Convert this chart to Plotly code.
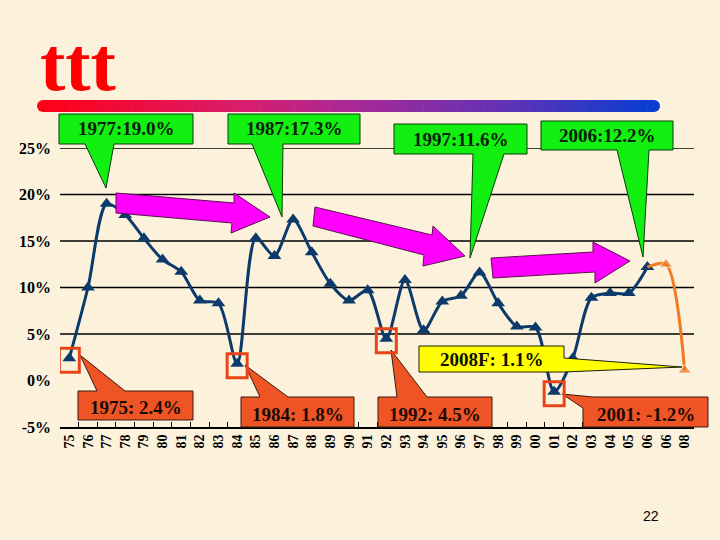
import plotly.graph_objects as go

# ---------------- data ----------------
year_labels = ["75", "76", "77", "78", "79", "80", "81", "82", "83", "84",
               "85", "86", "87", "88", "89", "90", "91", "92", "93", "94",
               "95", "96", "97", "98", "99", "00", "01", "02", "03", "04",
               "05", "06", "06", "08"]
growth_actual = [2.4, 10.0, 19.0, 17.8, 15.3, 13.0, 11.7, 8.6, 8.3, 1.8,
                 15.3, 13.4, 17.3, 13.8, 10.4, 8.6, 9.7, 4.5, 10.8, 5.4,
                 8.5, 9.1, 11.6, 8.3, 5.8, 5.7, -1.2, 2.4, 8.9, 9.4,
                 9.4, 12.2]
forecast_pos = [31, 32, 33]
growth_forecast = [12.2, 12.5, 1.1]
y_tick_vals = [-5, 0, 5, 10, 15, 20, 25]
y_tick_text = ["-5%", "0%", "5%", "10%", "15%", "20%", "25%"]
grid_levels = [5, 10, 15, 20, 25]
highlight_pos = [0, 9, 17, 26]
highlight_val = [2.4, 1.8, 4.5, -1.2]

# ---------------- layout geometry (pixels) ----------------
W, H = 720, 540
L, R, T, B = 60, 694, 148, 427
def px(x):
    return (x - L) / (R - L)
def py(y):
    return (B - y) / (B - T)
def path(points):
    return "M " + " L ".join(f"{px(x):.5f},{py(y):.5f}" for x, y in points) + " Z"

BLUE = "#0B3A6B"
ORANGE = "#F07820"
GREEN = "#12F012"
RED = "#EF5424"
BG = "#FCF2DC"
SERIF = "Liberation Serif"

fig = go.Figure()
x_actual = list(range(len(growth_actual)))
fig.add_trace(go.Scatter(
    x=x_actual, y=growth_actual, mode="lines+markers",
    line=dict(color=BLUE, width=3, shape="spline", smoothing=0.8),
    marker=dict(symbol="triangle-up", size=12, color=BLUE),
    hoverinfo="skip", showlegend=False))
fig.add_trace(go.Scatter(
    x=forecast_pos, y=growth_forecast, mode="lines+markers",
    line=dict(color=ORANGE, width=3, shape="spline", smoothing=0.8),
    marker=dict(symbol="triangle-up", size=[0, 12, 12], color=ORANGE),
    hoverinfo="skip", showlegend=False))

shapes = []
# gradient title bar
bx0, bx1, by0, by1 = 37, 660, 100, 112
r = (by1 - by0) / 2
stops = [(0.0, (255, 0, 25)), (0.33, (215, 30, 110)), (0.5, (170, 40, 150)),
         (0.75, (100, 50, 180)), (1.0, (10, 60, 210))]
def mix(t):
    for (t0, a), (t1, b) in zip(stops[:-1], stops[1:]):
        if t <= t1:
            f = (t - t0) / (t1 - t0)
            return "rgb(%d,%d,%d)" % tuple(round(u + (v - u) * f) for u, v in zip(a, b))
    return "rgb(%d,%d,%d)" % stops[-1][1]
shapes.append(dict(type="circle", xref="paper", yref="paper",
                   x0=px(bx0), x1=px(bx0 + 2 * r), y0=py(by1), y1=py(by0),
                   fillcolor=mix(0), line=dict(width=0), layer="above"))
shapes.append(dict(type="circle", xref="paper", yref="paper",
                   x0=px(bx1 - 2 * r), x1=px(bx1), y0=py(by1), y1=py(by0),
                   fillcolor=mix(1), line=dict(width=0), layer="above"))
n = 90
sx0, sx1 = bx0 + r, bx1 - r
for i in range(n):
    a = sx0 + (sx1 - sx0) * i / n
    b = sx0 + (sx1 - sx0) * (i + 1) / n + 0.6
    shapes.append(dict(type="rect", xref="paper", yref="paper",
                       x0=px(a), x1=px(b), y0=py(by1), y1=py(by0),
                       fillcolor=mix(i / (n - 1)), line=dict(width=0), layer="above"))

# horizontal grid lines
for g in grid_levels:
    shapes.append(dict(type="line", xref="paper", yref="y", x0=0, x1=1, y0=g, y1=g,
                       line=dict(color="black", width=1.3), layer="below"))

# magenta arrows
arrows = [
    [(116, 193), (234, 203), (234, 193), (270, 217), (231, 233), (232, 223), (116, 213)],
    [(315, 207), (432, 235), (433, 226), (465, 256), (423, 266), (424, 255), (313, 226)],
    [(491, 258), (593, 252), (593, 242), (630, 261), (595, 283), (595, 272), (493, 278)],
]
for a in arrows:
    shapes.append(dict(type="path", xref="paper", yref="paper", path=path(a),
                       fillcolor="#FF00FF", line=dict(color="#5A1050", width=1), layer="above"))

# green callouts (box + downward pointer)
green = [
    ((59, 114, 193, 144), (85, 114), (106, 188), "1977:19.0%"),
    ((228, 114, 360, 144), (252, 283), (282, 217), "1987:17.3%"),
    ((394, 124, 527, 154), (473, 504), (470, 258), "1997:11.6%"),
    ((541, 121, 673, 150), (617, 649), (643, 257), "2006:12.2%"),
]
annotations = []
for (x0, y0, x1, y1), (bl, br), tip, label in green:
    pts = [(x0, y0), (x1, y0), (x1, y1), (br, y1), tip, (bl, y1), (x0, y1)]
    shapes.append(dict(type="path", xref="paper", yref="paper", path=path(pts),
                       fillcolor=GREEN, line=dict(color="#0A3A0A", width=1), layer="above"))
    annotations.append(dict(xref="paper", yref="paper", x=px((x0 + x1) / 2), y=py((y0 + y1) / 2),
                            xanchor="center", yanchor="middle",
                            text=label, showarrow=False,
                            font=dict(family=SERIF, size=19, color="#0A200A", weight="bold")))

# red callouts
red = [
    ([(78, 391), (97, 391), (80, 355), (125, 391), (193, 391), (193, 420), (78, 420)], (78, 391, 193, 420), "1975: 2.4%"),
    ([(241, 397), (260, 397), (245, 365), (288, 397), (354, 397), (354, 427), (241, 427)], (241, 397, 354, 427), "1984: 1.8%"),
    ([(378, 397), (397, 397), (391, 350), (427, 397), (492, 397), (492, 427), (378, 427)], (378, 397, 492, 427), "1992: 4.5%"),
    ([(593, 397), (708, 397), (708, 427), (583, 427), (583, 408), (562, 394)], (583, 397, 708, 427), "2001: -1.2%"),
]
for pts, (x0, y0, x1, y1), label in red:
    shapes.append(dict(type="path", xref="paper", yref="paper", path=path(pts),
                       fillcolor=RED, line=dict(color="#3A1A10", width=1), layer="above"))
    annotations.append(dict(xref="paper", yref="paper", x=px((x0 + x1) / 2), y=py((y0 + y1) / 2 + 2),
                            xanchor="center", yanchor="middle",
                            text=label, showarrow=False,
                            font=dict(family=SERIF, size=19, color="#1A0A05", weight="bold")))

# highlight squares around notable points
for xi, v in zip(highlight_pos, highlight_val):
    shapes.append(dict(type="rect", xref="x", yref="y", xsizemode="pixel", ysizemode="pixel",
                       xanchor=xi, yanchor=v, x0=-10, x1=10, y0=-14, y1=10,
                       fillcolor="rgba(0,0,0,0)", line=dict(color="#E8441A", width=3), layer="above"))

# yellow forecast callout
ypts = [(419, 346), (564, 346), (564, 358), (682, 367), (564, 372), (419, 372)]
shapes.append(dict(type="path", xref="paper", yref="paper", path=path(ypts),
                   fillcolor="#FFFF00", line=dict(color="#202000", width=1), layer="above"))
annotations.append(dict(xref="paper", yref="paper", x=px(491), y=py(359),
                        xanchor="center", yanchor="middle",
                        text="2008F: 1.1%", showarrow=False,
                        font=dict(family=SERIF, size=19, color="#101000", weight="bold")))

# title glyphs and page number
annotations.append(dict(xref="paper", yref="paper", x=px(38), y=py(64), xanchor="left", yanchor="middle",
                        text="ttt", showarrow=False,
                        font=dict(family=SERIF, size=76, color="#FF0000", weight="bold")))
annotations.append(dict(xref="paper", yref="paper", x=px(651), y=py(516),
                        xanchor="center", yanchor="middle",
                        text="22", showarrow=False,
                        font=dict(family="Liberation Sans", size=14, color="black")))

fig.update_layout(
    width=W, height=H,
    margin=dict(l=L, r=W - R, t=T, b=H - B),
    paper_bgcolor=BG, plot_bgcolor="rgba(0,0,0,0)",
    shapes=shapes, annotations=annotations,
    xaxis=dict(range=[-0.5, len(year_labels) - 0.5],
               tickmode="array", tickvals=list(range(len(year_labels))), ticktext=year_labels,
               tickangle=-90, ticks="", showgrid=False, zeroline=False,
               showline=True, linecolor="black", linewidth=2,
               tickfont=dict(family=SERIF, size=14, color="black", weight="bold"),
               minor=dict(tickmode="array", tickvals=[i + 0.5 for i in range(len(year_labels) - 1)],
                          ticks="inside", ticklen=5, tickcolor="black", tickwidth=1.3, showgrid=False)),
    yaxis=dict(range=[-5, 25], tickmode="array", tickvals=y_tick_vals, ticktext=y_tick_text,
               showgrid=False, zeroline=False, showline=False, ticks="",
               ticklabelstandoff=8,
               tickfont=dict(family=SERIF, size=16, color="black", weight="bold")),
)

fig.write_html("out.html", config={"displayModeBar": False},
               post_script="document.body.style.margin='0';document.body.style.background='" + BG + "';")
